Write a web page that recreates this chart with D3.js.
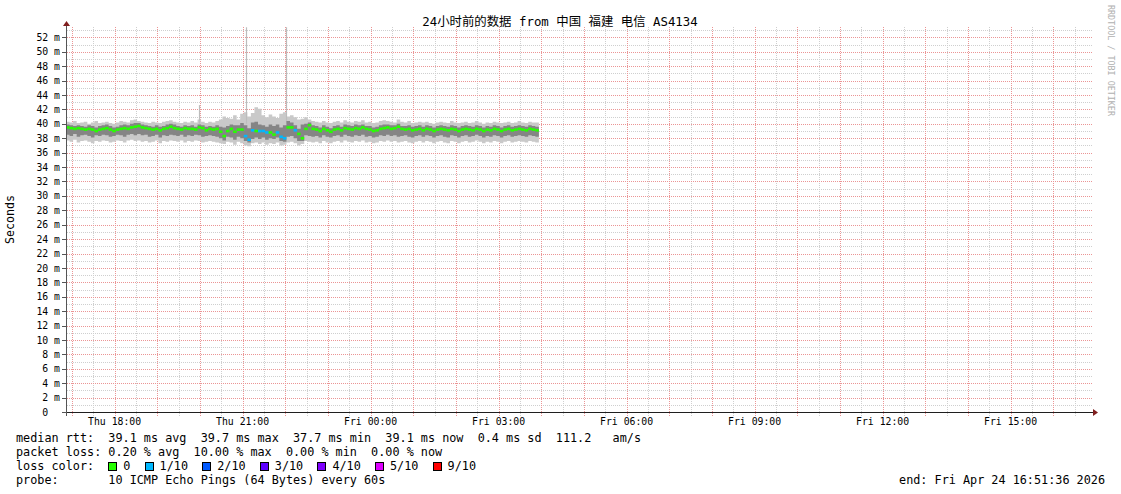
<!DOCTYPE html>
<html>
<head>
<meta charset="utf-8">
<script src="https://cdn.jsdelivr.net/npm/d3@7"></script>
<style>
body{margin:0;background:#fff}
text{font-family:"DejaVu Sans Mono",monospace;white-space:pre}
</style>
</head>
<body>
<svg id="chart" width="1121" height="494"></svg>
<script>
// 24h window, samples every 5 minutes
const start = new Date(2026, 3, 23, 16, 51, 36)
const end = new Date(2026, 3, 24, 16, 51, 36)
const stepMin = 5

// median rtt (ms)
const median = [
 39.5,39.4,39.3,39.4,39.3,39.2,39.3,39.2,39.0,39.2,
 39.3,39.4,39.2,39.0,39.2,39.3,39.4,39.3,39.5,39.6,
 39.7,39.5,39.4,39.3,39.2,39.3,39.1,39.3,39.4,39.6,
 39.4,39.3,39.2,39.4,39.3,39.3,39.2,39.5,39.4,39.1,
 39.3,39.2,39.3,38.9,38.3,39.0,39.3,38.9,39.2,39.2,
 38.3,37.8,39.1,39.0,39.0,39.0,38.8,38.8,38.5,38.8,
 38.2,38.0,39.5,39.5,39.1,38.6,38.0,39.3,39.8,39.3,
 39.2,39.0,39.3,39.1,38.9,39.2,39.3,39.1,39.4,39.3,
 39.2,39.4,39.3,39.5,39.3,39.2,39.0,39.1,39.3,39.4,
 39.5,39.3,39.4,39.6,39.3,39.2,39.3,39.1,39.2,39.3,
 39.1,39.3,39.2,39.0,39.2,39.3,39.2,39.1,39.3,39.2,
 39.0,39.2,39.3,39.2,39.1,39.3,39.2,39.0,39.2,39.1,
 39.3,39.2,39.0,39.2,39.3,39.1,39.2,39.3,39.2,39.1,
 39.3,39.2,39.1]
// lost pings out of 10
const loss = [
 0,0,0,0,0,0,0,0,0,0, 0,0,0,0,0,0,0,0,0,0,
 0,0,0,0,0,0,0,0,0,0, 0,0,0,0,0,0,0,0,0,0,
 0,0,0,0,0,0,0,0,0,0, 1,1,1,0,1,1,1,0,0,1,
 1,1,0,0,1,0,0,0,0,0, 0,0,0,0,0,0,0,0,0,0,
 0,0,0,0,0,0,0,0,0,0, 0,0,0,0,0,0,0,0,0,0,
 0,0,0,0,0,0,0,0,0,0, 0,0,0,0,0,0,0,0,0,0,
 0,0,0,0,0,0,0,0,0,0, 0,0,0]
// smoke: slowest and fastest ping
const smokeMax = [
 40.3,40.2,40.4,40.1,40.2,40.3,40.0,40.2,40.4,40.1,
 40.2,40.3,40.1,40.0,40.2,40.4,40.3,40.2,40.5,40.6,
 40.4,40.3,40.2,40.1,40.3,40.2,40.1,40.3,40.4,40.5,
 40.3,40.2,40.1,40.3,40.2,40.4,40.2,40.6,40.3,40.1,
 40.3,40.2,40.4,40.6,41.0,40.8,40.7,41.2,40.6,41.4,
 41.6,41.0,41.5,42.3,42.1,41.2,40.9,41.3,41.0,40.8,
 41.4,41.6,41.0,41.2,40.9,40.6,40.7,40.9,40.6,40.4,
 40.3,40.2,40.4,40.2,40.1,40.3,40.4,40.2,40.5,40.3,
 40.2,40.4,40.3,40.5,40.2,40.3,40.1,40.2,40.4,40.5,
 40.4,40.3,40.2,40.6,40.3,40.2,40.4,40.1,40.2,40.3,
 40.2,40.3,40.1,40.0,40.2,40.3,40.2,40.1,40.4,40.2,
 40.1,40.2,40.3,40.1,40.2,40.4,40.2,40.0,40.2,40.1,
 40.3,40.2,40.1,40.2,40.3,40.1,40.2,40.4,40.2,40.1,
 40.3,40.2,40.2]
const smokeMin = [
 37.7,37.5,37.8,37.4,37.6,37.7,37.5,37.3,37.6,37.5,
 37.7,37.6,37.4,37.5,37.7,37.6,37.4,37.7,37.8,37.6,
 37.7,37.5,37.6,37.4,37.5,37.7,37.3,37.6,37.5,37.7,
 37.6,37.5,37.7,37.4,37.6,37.5,37.7,37.6,37.4,37.5,
 37.6,37.5,37.4,37.3,37.2,37.5,37.4,37.1,37.5,37.3,
 37.0,36.9,37.3,37.4,37.2,37.4,37.1,37.3,37.2,37.4,
 37.0,37.1,37.4,37.5,37.3,37.0,37.2,37.6,37.5,37.4,
 37.5,37.3,37.6,37.4,37.3,37.5,37.6,37.4,37.7,37.5,
 37.4,37.6,37.5,37.7,37.4,37.5,37.3,37.4,37.6,37.5,
 37.7,37.5,37.6,37.4,37.5,37.6,37.4,37.3,37.5,37.6,
 37.4,37.6,37.5,37.3,37.5,37.6,37.4,37.3,37.6,37.5,
 37.3,37.5,37.6,37.4,37.5,37.7,37.5,37.3,37.5,37.4,
 37.6,37.5,37.3,37.5,37.6,37.4,37.5,37.6,37.5,37.4,
 37.6,37.5,37.4]
// smoke: inner pings
const smokeHi = [
 39.9,39.8,39.7,39.8,39.7,39.6,39.8,39.7,39.5,39.7,
 39.8,39.9,39.7,39.5,39.6,39.8,39.9,39.8,40.0,40.1,
 40.1,39.9,39.8,39.7,39.6,39.8,39.6,39.7,39.9,40.0,
 39.9,39.7,39.6,39.8,39.7,39.8,39.6,39.9,39.8,39.6,
 39.7,39.6,39.8,39.6,39.5,39.7,39.9,39.8,39.8,40.1,
 39.8,39.4,40.2,40.3,39.9,39.8,39.6,39.9,39.7,39.9,
 39.5,39.8,40.4,40.2,39.8,39.3,39.9,40.0,40.2,39.8,
 39.7,39.5,39.8,39.6,39.4,39.7,39.8,39.6,39.9,39.8,
 39.7,39.9,39.8,39.9,39.7,39.7,39.5,39.6,39.8,39.9,
 39.9,39.8,39.8,40.0,39.7,39.7,39.8,39.6,39.7,39.8,
 39.6,39.8,39.7,39.5,39.7,39.8,39.7,39.6,39.8,39.7,
 39.5,39.7,39.8,39.7,39.6,39.8,39.7,39.5,39.7,39.6,
 39.8,39.7,39.5,39.7,39.8,39.6,39.7,39.8,39.7,39.6,
 39.8,39.7,39.6]
const smokeLo = [
 38.5,38.3,38.6,38.2,38.4,38.5,38.3,38.1,38.4,38.3,
 38.5,38.4,38.2,38.3,38.5,38.4,38.2,38.5,38.6,38.4,
 38.6,38.4,38.5,38.2,38.3,38.5,38.1,38.4,38.3,38.5,
 38.4,38.3,38.5,38.2,38.4,38.3,38.5,38.4,38.2,38.3,
 38.4,38.3,38.2,38.0,37.7,38.2,38.1,37.8,38.2,38.0,
 37.6,37.4,37.9,38.1,37.9,38.1,37.8,38.0,37.9,38.1,
 37.6,37.5,38.2,38.3,38.0,37.6,37.6,38.4,38.3,38.2,
 38.3,38.1,38.4,38.2,38.1,38.3,38.4,38.2,38.5,38.3,
 38.2,38.4,38.3,38.5,38.2,38.3,38.1,38.2,38.4,38.3,
 38.5,38.3,38.4,38.2,38.3,38.4,38.2,38.1,38.3,38.4,
 38.2,38.4,38.3,38.1,38.3,38.4,38.2,38.1,38.4,38.3,
 38.1,38.3,38.4,38.2,38.3,38.5,38.3,38.1,38.3,38.2,
 38.4,38.3,38.1,38.3,38.4,38.2,38.3,38.4,38.3,38.2,
 38.4,38.3,38.2]
// single slow pings poking out of the smoke
const spikeTime = [new Date(2026,3,23,19,58), new Date(2026,3,23,21,5), new Date(2026,3,23,22,1)]
const spikeTop = [42.6, 53.4, 53.4]

const lossLevels = [0, 1, 2, 3, 4, 5, 9]
const lossLabels = ["0", "1/10", "2/10", "3/10", "4/10", "5/10", "9/10"]
const lossColors = ["#26ff00", "#00b8ff", "#0059ff", "#5e00ff", "#7e00ff", "#dd00ff", "#ff0000"]

const yTicks = d3.range(0, 53, 2)
const title = "24小时前的数据 from 中国 福建 电信 AS4134"
const statRows = [
  "median rtt:  39.1 ms avg  39.7 ms max  37.7 ms min  39.1 ms now  0.4 ms sd  111.2   am/s",
  "packet loss: 0.20 % avg  10.00 % max  0.00 % min  0.00 % now",
  "loss color:",
  "probe:       10 ICMP Echo Pings (64 Bytes) every 60s"]
const endText = "end: Fri Apr 24 16:51:36 2026"

const svg = d3.select("#chart")
const x = d3.scaleTime().domain([start, end]).range([66, 1090])
const y = d3.scaleLinear().domain([0, 53.44]).range([412, 27])
const px = v => Math.round(v) + 0.5
const cw = 7.1 // legend char width

const pts = median.map((m, i) => ({
  t: d3.timeMinute.offset(start, i * stepMin),
  m: m, loss: loss[i],
  min: smokeMin[i], max: smokeMax[i], lo: smokeLo[i], hi: smokeHi[i]
}))
// extra point closing the last step
const last = pts[pts.length - 1]
const stepPts = pts.concat([Object.assign({}, last, {t: d3.timeMinute.offset(last.t, stepMin)})])

// grid: minor grey, major pink (rrdtool defaults)
const isMajorH = d => d % 2 === 0
const isMajorV = d => d.getMinutes() === 0
const hLines = d3.range(1, 54)
const vLines = d3.timeMinute.every(30).range(start, end)
const grid = svg.append("g").attr("stroke-dasharray", "1,1")
grid.append("g").attr("stroke", "#cfcfcf").selectAll("line")
  .data(hLines.filter(d => !isMajorH(d)))
  .join("line")
    .attr("x1", 67).attr("x2", 1092)
    .attr("y1", d => px(y(d))).attr("y2", d => px(y(d)))
grid.append("g").attr("stroke", "#cfcfcf").selectAll("line")
  .data(vLines.filter(d => !isMajorV(d)))
  .join("line")
    .attr("x1", d => px(x(d))).attr("x2", d => px(x(d)))
    .attr("y1", 27).attr("y2", 416)
grid.append("g").attr("stroke", "#eb9595").selectAll("line")
  .data(hLines.filter(isMajorH))
  .join("line")
    .attr("x1", 67).attr("x2", 1092)
    .attr("y1", d => px(y(d))).attr("y2", d => px(y(d)))
grid.append("g").attr("stroke", "#eb9595").selectAll("line")
  .data(vLines.filter(isMajorV))
  .join("line")
    .attr("x1", d => px(x(d))).attr("x2", d => px(x(d)))
    .attr("y1", 27).attr("y2", 416)

// smoke
const areaOuter = d3.area().curve(d3.curveStepAfter)
  .x(d => x(d.t)).y0(d => y(d.min)).y1(d => y(d.max))
const areaInner = d3.area().curve(d3.curveStepAfter)
  .x(d => x(d.t)).y0(d => y(d.lo)).y1(d => y(d.hi))
svg.append("path").datum(stepPts).attr("d", areaOuter).attr("fill", "#c9c9c9")
svg.append("g").selectAll("line")
  .data(spikeTime)
  .join("line")
    .attr("x1", d => px(x(d))).attr("x2", d => px(x(d)))
    .attr("y1", (d, i) => y(spikeTop[i])).attr("y2", y(40))
    .attr("stroke", "#bcbcbc").attr("stroke-width", 1.2)
svg.append("path").datum(stepPts).attr("d", areaInner).attr("fill", "#858585")

// median coloured by loss
const lossColor = n => lossColors[d3.bisectRight(lossLevels, n) - 1]
svg.append("g").selectAll("line")
  .data(pts)
  .join("line")
    .attr("x1", d => x(d.t))
    .attr("x2", d => x(d3.timeMinute.offset(d.t, stepMin)))
    .attr("y1", d => y(d.m)).attr("y2", d => y(d.m))
    .attr("stroke", d => lossColor(d.loss))
    .attr("stroke-width", 2.6)

// axes
const axes = svg.append("g").attr("shape-rendering", "crispEdges")
axes.append("line").attr("x1", 62).attr("x2", 1094).attr("y1", 412.5).attr("y2", 412.5).attr("stroke", "#1f1f1f")
axes.append("line").attr("x1", 66.5).attr("x2", 66.5).attr("y1", 416).attr("y2", 25).attr("stroke", "#555")
axes.selectAll("line.tk")
  .data(yTicks)
  .join("line")
    .attr("x1", 62).attr("x2", 66)
    .attr("y1", d => px(y(d))).attr("y2", d => px(y(d)))
    .attr("stroke", "#555")
svg.append("path").attr("d", "M1093,409L1098,412.5L1093,416Z").attr("fill", "#801f1f")
svg.append("path").attr("d", "M63,26L66.5,21L70,26Z").attr("fill", "#801f1f")

svg.append("g").selectAll("text")
  .data(yTicks)
  .join("text")
    .attr("x", 60).attr("y", d => y(d) + 3.6)
    .attr("text-anchor", "end")
    .style("font-size", "9.8px")
    .text(d => d === 0 ? "0  " : d + " m")

const timeFmt = d3.timeFormat("%a %H:%M")
svg.append("g").selectAll("text")
  .data(d3.timeHour.every(3).range(start, end))
  .join("text")
    .attr("x", d => x(d)).attr("y", 425)
    .attr("text-anchor", "middle")
    .style("font-size", "9.8px")
    .text(timeFmt)

// titles
svg.append("text").attr("x", 560).attr("y", 26).attr("text-anchor", "middle")
  .style("font-family", "'DejaVu Sans Mono','Noto Sans CJK SC',monospace")
  .style("font-size", "12.4px").text(title)
svg.append("text").attr("transform", "translate(14,219.5) rotate(-90)")
  .attr("text-anchor", "middle").style("font-size", "11.6px").text("Seconds")
svg.append("text").attr("transform", "translate(1108,5) rotate(90)")
  .style("font-size", "8.4px").attr("fill", "#b0b0b0").text("RRDTOOL / TOBI OETIKER")

// legend
svg.append("g").selectAll("text")
  .data(statRows)
  .join("text")
    .attr("x", 16).attr("y", (d, i) => 442 + i * 14)
    .style("font-size", "11.8px")
    .text(d => d)
let lx = 16 + 13 * cw
lossLabels.forEach((lab, i) => {
  svg.append("rect").attr("x", Math.round(lx) + 0.5).attr("y", 462.5).attr("width", 8).attr("height", 8)
    .attr("fill", lossColors[i]).attr("stroke", "#000").attr("shape-rendering", "crispEdges")
  svg.append("text").attr("x", lx + 15).attr("y", 470).style("font-size", "11.8px").text(lab)
  lx += 15 + (lab.length + 2) * cw
})
svg.append("text").attr("x", 1105).attr("y", 484).attr("text-anchor", "end")
  .style("font-size", "11.8px").text(endText)
</script>
</body>
</html>
